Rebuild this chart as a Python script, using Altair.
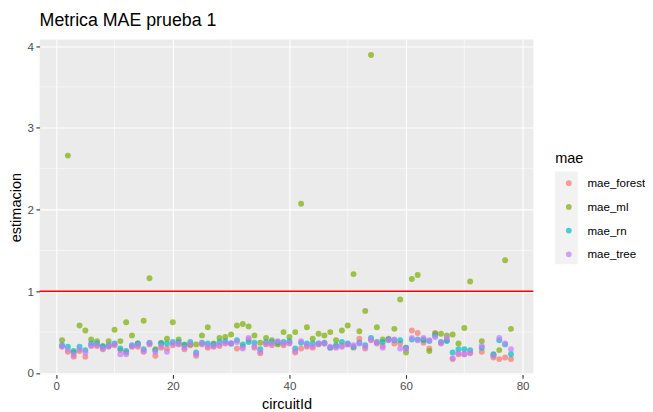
import altair as alt
import pandas as pd

ids = list(range(1, 72)) + [73] + list(range(75, 79))

mae_forest = [0.32, 0.26, 0.20, 0.27, 0.20, 0.33, 0.33, 0.29, 0.32, 0.34,
              0.28, 0.25, 0.32, 0.32, 0.26, 0.35, 0.21, 0.31, 0.30, 0.34,
              0.35, 0.29, 0.34, 0.21, 0.35, 0.31, 0.32, 0.33, 0.36, 0.36,
              0.30, 0.32, 0.41, 0.31, 0.24, 0.35, 0.34, 0.36, 0.34, 0.36,
              0.25, 0.30, 0.32, 0.31, 0.35, 0.36, 0.31, 0.32, 0.33, 0.35,
              0.31, 0.42, 0.30, 0.40, 0.36, 0.33, 0.42, 0.36, 0.36, 0.31,
              0.52, 0.49, 0.37, 0.30, 0.49, 0.36, 0.40, 0.17, 0.23, 0.23,
              0.24, 0.26, 0.19, 0.17, 0.19, 0.17]

mae_ml = [0.40, 2.66, 0.25, 0.58, 0.52, 0.41, 0.39, 0.33, 0.39, 0.53,
          0.39, 0.62, 0.46, 0.36, 0.64, 1.16, 0.29, 0.37, 0.42, 0.62,
          0.41, 0.35, 0.35, 0.35, 0.46, 0.56, 0.36, 0.43, 0.44, 0.47,
          0.58, 0.60, 0.57, 0.46, 0.37, 0.43, 0.40, 0.35, 0.50, 0.44,
          0.50, 2.07, 0.56, 0.42, 0.48, 0.46, 0.50, 0.40, 0.52, 0.58,
          1.21, 0.51, 0.76, 3.89, 0.56, 0.41, 0.41, 0.54, 0.90, 0.25,
          1.15, 1.20, 0.41, 0.27, 0.48, 0.48, 0.46, 0.47, 0.36, 0.55,
          1.12, 0.39, 0.22, 0.28, 1.38, 0.54]

mae_rn = [0.34, 0.32, 0.27, 0.32, 0.28, 0.36, 0.36, 0.32, 0.34, 0.36,
          0.30, 0.27, 0.34, 0.36, 0.29, 0.37, 0.28, 0.36, 0.36, 0.38,
          0.38, 0.34, 0.38, 0.25, 0.37, 0.36, 0.35, 0.38, 0.39, 0.36,
          0.40, 0.35, 0.38, 0.37, 0.29, 0.38, 0.38, 0.38, 0.38, 0.39,
          0.30, 0.37, 0.36, 0.36, 0.36, 0.37, 0.31, 0.34, 0.38, 0.36,
          0.32, 0.37, 0.34, 0.43, 0.38, 0.38, 0.41, 0.40, 0.40, 0.31,
          0.41, 0.41, 0.40, 0.39, 0.46, 0.38, 0.39, 0.25, 0.29, 0.29,
          0.28, 0.31, 0.23, 0.40, 0.35, 0.23]

mae_tree = [0.33, 0.28, 0.22, 0.29, 0.25, 0.34, 0.34, 0.30, 0.33, 0.35,
            0.23, 0.23, 0.33, 0.34, 0.27, 0.36, 0.26, 0.33, 0.26, 0.36,
            0.36, 0.31, 0.36, 0.23, 0.36, 0.33, 0.33, 0.35, 0.37, 0.36,
            0.38, 0.30, 0.43, 0.33, 0.26, 0.36, 0.36, 0.39, 0.36, 0.37,
            0.27, 0.39, 0.34, 0.33, 0.36, 0.36, 0.32, 0.31, 0.32, 0.35,
            0.34, 0.36, 0.32, 0.41, 0.37, 0.31, 0.40, 0.41, 0.30, 0.29,
            0.43, 0.40, 0.43, 0.40, 0.44, 0.37, 0.43, 0.18, 0.24, 0.23,
            0.25, 0.33, 0.21, 0.43, 0.36, 0.29]

series_names = ["mae_forest", "mae_ml", "mae_rn", "mae_tree"]
series_colors = ["#F8766D", "#7CAE00", "#00BFC4", "#C77CFF"]
x_major = [0, 20, 40, 60, 80]
x_minor = [10, 30, 50, 70]
y_major = [0, 1, 2, 3, 4]
y_minor = [0.5, 1.5, 2.5, 3.5]
threshold = [1]

rows = []
for name, vals in zip(series_names, [mae_forest, mae_ml, mae_rn, mae_tree]):
    for i, v in zip(ids, vals):
        rows.append({"circuitId": i, "estimacion": v, "mae": name})
df = pd.DataFrame(rows)

FONT = "Liberation Sans"
xscale = alt.Scale(domain=[-2.85, 81.85], nice=False, zero=False)
yscale = alt.Scale(domain=[-0.02, 4.08], nice=False, zero=False)
xaxis = alt.Axis(values=x_major, title="circuitId")
yaxis = alt.Axis(values=y_major, title="estimacion")

minor_x = alt.Chart(pd.DataFrame({"v": x_minor})).mark_rule(
    color="white", strokeWidth=0.55
).encode(x=alt.X("v:Q", scale=xscale, axis=xaxis))

minor_y = alt.Chart(pd.DataFrame({"v": y_minor})).mark_rule(
    color="white", strokeWidth=0.55
).encode(y=alt.Y("v:Q", scale=yscale, axis=yaxis))

key_bg = alt.Chart(pd.DataFrame({"a": [0]})).mark_rect(
    color="#F2F2F2"
).encode(
    x=alt.value(521.7), x2=alt.value(545), y=alt.value(133.6), y2=alt.value(227.6)
)

points = alt.Chart(df).mark_circle(size=36, opacity=0.7).encode(
    x=alt.X("circuitId:Q", scale=xscale, axis=xaxis),
    y=alt.Y("estimacion:Q", scale=yscale, axis=yaxis),
    color=alt.Color(
        "mae:N",
        scale=alt.Scale(domain=series_names, range=series_colors),
        legend=alt.Legend(
            title="mae", orient="none", legendX=522, legendY=113,
            padding=0, titleFontSize=14.7, titleFontWeight="normal",
            titleColor="black", titleFont=FONT, titlePadding=6,
            labelFontSize=11.7, labelColor="black", labelFont=FONT,
            labelOffset=13, symbolType="circle", symbolSize=34,
            symbolOpacity=0.7, symbolStrokeWidth=0, clipHeight=23.5,
            rowPadding=0, symbolOffset=8,
        ),
    ),
)

hline = alt.Chart(pd.DataFrame({"estimacion": threshold})).mark_rule(
    color="red", strokeWidth=1.5
).encode(y=alt.Y("estimacion:Q", scale=yscale, axis=yaxis))

chart = alt.layer(minor_x, minor_y, key_bg, points, hline).properties(
    width=500, height=339.3,
    title=alt.TitleParams("Metrica MAE prueba 1", anchor="start", frame="group",
                          fontSize=18, font=FONT, fontWeight="normal",
                          color="black", offset=9),
    autosize=alt.AutoSizeParams(type="none"),
    padding={"left": 32, "top": 29.4, "right": 113, "bottom": 35},
).configure_view(
    fill="#EBEBEB", stroke=None
).configure_axis(
    domain=False, grid=True, gridColor="white", gridWidth=1.1,
    tickColor="#333333", tickSize=3.7, tickWidth=1.1,
    labelColor="#4D4D4D", labelFontSize=11.7, labelFont=FONT, labelPadding=2.5,
    titleFont=FONT, titleFontSize=14.7, titleFontWeight="normal", titleColor="black",
).configure_axisX(titlePadding=4).configure_axisY(titlePadding=4)

chart.save("out.html", embed_options={"renderer": "svg", "actions": False})
